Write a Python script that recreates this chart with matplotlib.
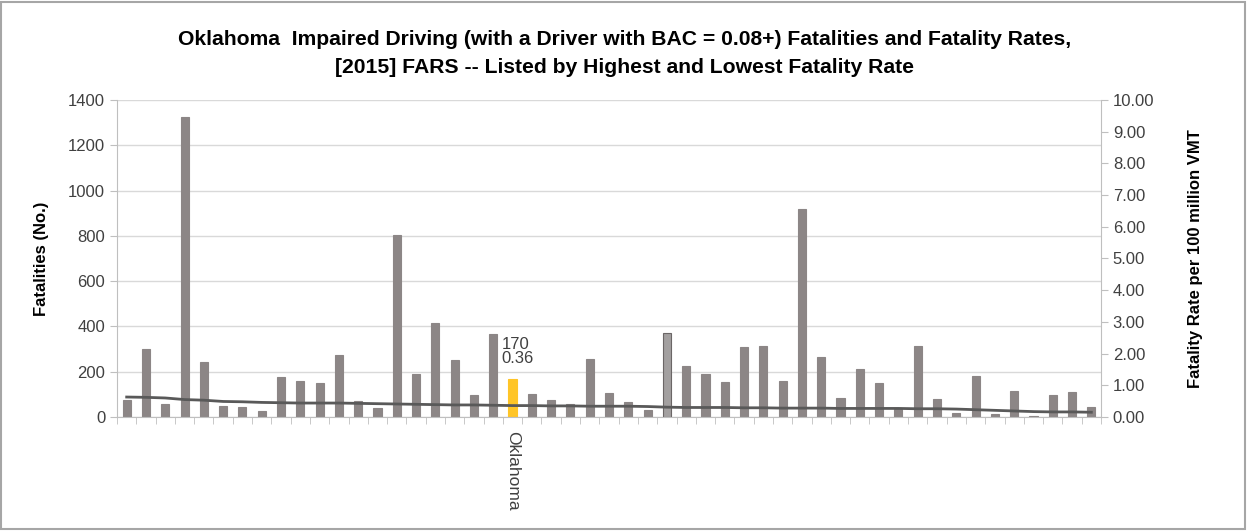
import numpy as np
import matplotlib
matplotlib.use("Agg")
import matplotlib.pyplot as plt
from matplotlib.patches import Rectangle

plt.rcParams["font.family"] = ["Liberation Sans", "DejaVu Sans"]

# ── 資料：依死亡率高→低排列的 51 州 ──────────────────────
fatalities = [77, 301, 59, 1325, 244, 50, 46, 25, 176, 158,
              149, 275, 71, 41, 802, 192, 414, 250, 97, 366,
              170, 102, 75, 56, 254, 106, 68, 32, 371, 223,
              188, 154, 310, 313, 158, 917, 266, 84, 210, 149,
              35, 313, 80, 18, 180, 15, 114, 6, 97, 109, 44]
rates = [0.63, 0.62, 0.60, 0.55, 0.53, 0.49, 0.48, 0.46, 0.45, 0.44,
         0.44, 0.44, 0.43, 0.42, 0.41, 0.40, 0.39, 0.38, 0.38, 0.37,
         0.36, 0.36, 0.35, 0.35, 0.34, 0.34, 0.34, 0.33, 0.31, 0.30,
         0.30, 0.30, 0.29, 0.29, 0.28, 0.28, 0.28, 0.27, 0.27, 0.27,
         0.27, 0.26, 0.26, 0.25, 0.23, 0.21, 0.19, 0.17, 0.16, 0.16, 0.15]
labels = [""] * 51
labels[20] = "Oklahoma"
highlight = 20      # Oklahoma
outlined = 28       # 外框不同的長條

bar_colors = ["#8c8686"] * 51
bar_colors[highlight] = "#FFC527"
bar_colors[outlined] = "#a3a0a0"
edge_colors = bar_colors.copy()
edge_colors[outlined] = "#6b6666"

fig = plt.figure(figsize=(12.49, 5.31), dpi=100)
ax = fig.add_axes([0.0937, 0.2147, 0.7878, 0.597])
x = np.arange(len(fatalities))

ax.bar(x, fatalities, width=0.42, color=bar_colors, edgecolor=edge_colors,
       linewidth=0.8, zorder=2)
ax.set_xlim(-0.5, len(x) - 0.5)
ax.set_ylim(0, 1400)
ax.set_yticks(range(0, 1401, 200))
ax.grid(axis="y", color="#d9d9d9", linewidth=1, zorder=0)
ax.set_axisbelow(True)

for s in ["top", "right"]:
    ax.spines[s].set_visible(False)
ax.spines["left"].set_color("#bfbfbf")
ax.spines["bottom"].set_color("#bfbfbf")
ax.tick_params(axis="y", colors="#bfbfbf", labelcolor="#404040",
               labelsize=12, length=5)
ax.set_xticks([highlight])
ax.set_xticklabels([labels[highlight]], rotation=-90, fontsize=12.5,
                   color="#404040")
ax.tick_params(axis="x", length=0, pad=10)
ax.set_xticks(np.arange(-0.5, len(x), 1), minor=True)
ax.tick_params(axis="x", which="minor", length=5, color="#bfbfbf")
ax.set_ylabel("Fatalities (No.)", fontsize=12, fontweight="bold",
              color="#000000", labelpad=14)

ax2 = ax.twinx()
ax2.plot(x, rates, color="#595959", linewidth=2, zorder=3)
ax2.set_ylim(0, 10)
ax2.set_yticks(range(0, 11))
ax2.set_yticklabels([f"{v:.2f}" for v in range(0, 11)])
for s in ["top", "left", "bottom"]:
    ax2.spines[s].set_visible(False)
ax2.spines["right"].set_color("#bfbfbf")
ax2.tick_params(axis="y", colors="#bfbfbf", labelcolor="#404040",
                labelsize=12, length=5)
ax2.set_ylabel("Fatality Rate per 100 million VMT", fontsize=12,
               fontweight="bold", labelpad=24)

# 數值標籤
ax.text(highlight - 0.55, fatalities[highlight] + 150, f"{fatalities[highlight]}",
        fontsize=12, color="#404040", ha="left", va="center")
ax.text(highlight - 0.6, fatalities[highlight] + 90, f"{rates[highlight]:.2f}",
        fontsize=12, color="#404040", ha="left", va="center")

fig.text(0.5, 0.925, "Oklahoma  Impaired Driving (with a Driver with BAC = 0.08+) Fatalities and Fatality Rates,",
         ha="center", va="center", fontsize=15.2, fontweight="bold")
fig.text(0.5, 0.872, "[2015] FARS -- Listed by Highest and Lowest Fatality Rate",
         ha="center", va="center", fontsize=15.2, fontweight="bold")

fig.patches.append(Rectangle((0.001, 0.003), 0.996, 0.994, transform=fig.transFigure,
                             fill=False, edgecolor="#a6a6a6", linewidth=1.5))

fig.savefig("out.png", dpi=100)
